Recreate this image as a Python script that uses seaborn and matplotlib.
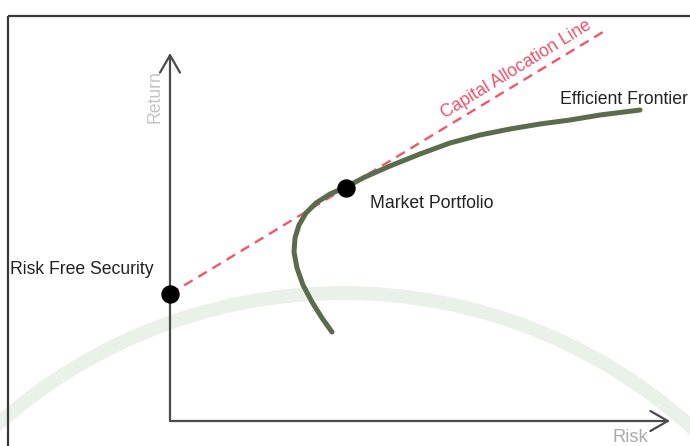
import matplotlib
matplotlib.use("Agg")
import matplotlib.pyplot as plt
from matplotlib.patches import Rectangle, Arc
import seaborn as sns
import pandas as pd

# ---- data (risk / return units) ----
frontier_risk = [162, 152, 142, 133, 127, 124, 125, 129, 136, 146, 160, 176,
                 195, 220, 250, 280, 310, 340, 370, 400, 430, 470]
frontier_return = [89, 103, 119, 136, 153, 169, 183, 196, 208, 218, 227, 234,
                   244, 255, 267, 278, 286, 292, 297, 301, 306, 311]

rf_point = (0, 127)          # risk free security
market_point = (176, 233)    # market portfolio
cal_risk = [0, 433]
cal_return = [127, 389]

labels = {
    "rf": "Risk Free Security",
    "mp": "Market Portfolio",
    "ef": "Efficient Frontier",
    "cal": "Capital Allocation Line",
    "x": "Risk",
    "y": "Return",
}

sns.set_style("white")
plt.rcParams["font.family"] = ["Liberation Sans", "DejaVu Sans"]

W, H = 690, 446
fig = plt.figure(figsize=(W / 100, H / 100), dpi=100)
fig.patch.set_facecolor("white")

# background decoration axes in pixel coordinates
bg = fig.add_axes([0, 0, 1, 1])
bg.set_xlim(0, W)
bg.set_ylim(H, 0)
bg.axis("off")
bg.add_patch(Arc((343, 813), 2 * 520, 2 * 520, theta1=180, theta2=360,
                 color="#eaf1e8", lw=10, zorder=0))
bg.add_patch(Rectangle((8, 16), 720, 470, fill=False, ec="#3a3a3a", lw=1.6, zorder=1))

# main axes: 1 data unit == 1 pixel
ax = fig.add_axes([0, 0, 1, 1])
ax.patch.set_alpha(0)

# capital allocation line
cal_df = pd.DataFrame({"risk": cal_risk, "ret": cal_return})
sns.lineplot(data=cal_df, x="risk", y="ret", ax=ax, color="#f2566c", lw=1.7,
             estimator=None, errorbar=None, zorder=3)
ax.lines[-1].set_dashes((4.2, 2.8))

# efficient frontier
ef_df = pd.DataFrame({"risk": frontier_risk, "ret": frontier_return})
sns.lineplot(data=ef_df, x="risk", y="ret", ax=ax, sort=False, estimator=None,
             errorbar=None, color="#5b6b4d", lw=3.6, zorder=4,
             solid_capstyle="round", solid_joinstyle="round")

# points
pts = pd.DataFrame({"risk": [rf_point[0], market_point[0]],
                    "ret": [rf_point[1], market_point[1]]})
sns.scatterplot(data=pts, x="risk", y="ret", ax=ax, s=150, color="black",
                edgecolor="black", zorder=5)

ax.set_xlim(-170, W - 170)
ax.set_ylim(-25, H - 25)
ax.axis("off")

# axis arrows
arrow_kw = dict(arrowstyle="->,head_length=1.25,head_width=0.72", color="#4a4a4a",
                lw=1.6, mutation_scale=10, shrinkA=0, shrinkB=0)
ax.annotate("", xy=(0, 368), xytext=(0, 0), arrowprops=arrow_kw)
ax.annotate("", xy=(500, 0), xytext=(0, 0), arrowprops=arrow_kw)

fs = 12.7
tc = "#222222"
ax.text(-160, 151, labels["rf"], fontsize=fs, color=tc, ha="left", va="center")
ax.text(200, 218, labels["mp"], fontsize=fs, color=tc, ha="left", va="center")
ax.text(390, 322, labels["ef"], fontsize=fs, color=tc, ha="left", va="center")
ax.text(346, 352, labels["cal"], fontsize=fs, color="#f0506a", ha="center",
        va="center", rotation=31.6, rotation_mode="anchor")
ax.text(-15, 324, labels["y"], fontsize=fs, color="#c4c4c4", ha="center",
        va="center", rotation=90)
ax.text(460, -21, labels["x"], fontsize=fs + 0.5, color="#aaaaaa", ha="center",
        va="baseline")

fig.savefig("out.png", dpi=100)
